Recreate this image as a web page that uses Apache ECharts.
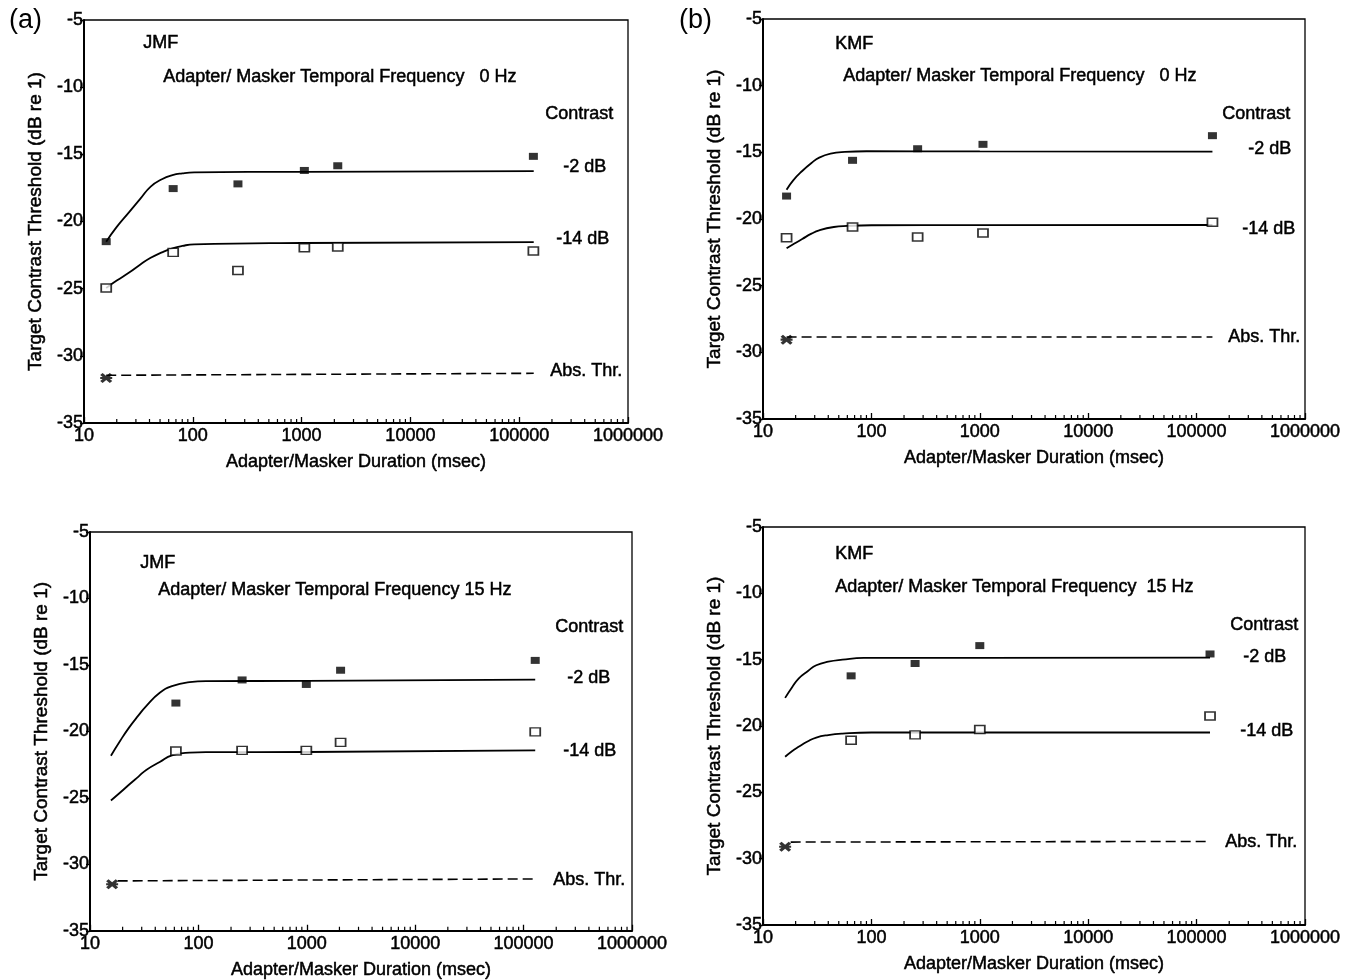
<!DOCTYPE html>
<html>
<head>
<meta charset="utf-8">
<script src="https://cdn.jsdelivr.net/npm/echarts@6/dist/echarts.min.js"></script>
<style>
  html, body { margin: 0; padding: 0; background: #fff; }
  #chart { width: 1354px; height: 980px; }
</style>
</head>
<body>
<div id="chart"></div>
<script>
// Adapter/masker duration (msec) and target contrast thresholds (dB re 1)

// (a) JMF, 0 Hz
const durA = [16, 66, 260, 1060, 2150, 135000];
const hiA = [-21.5, -17.55, -17.2, -16.2, -15.85, -15.15];
const loA = [-24.95, -22.3, -23.65, -21.95, -21.9, -22.2];
const absPtA = [16, -31.65];
const absLineA = [[16, -31.45], [136000, -31.3]];
const fitHiA = [[16, -21.5], [20, -20.4], [26, -19.3], [33, -18.3], [41, -17.4], [52, -16.85], [65, -16.55], [80, -16.42], [103, -16.35], [1000, -16.3], [136000, -16.25]];
const fitLoA = [[16, -24.95], [20, -24.4], [26, -23.8], [33, -23.2], [41, -22.7], [52, -22.3], [65, -22.0], [80, -21.82], [103, -21.7], [1000, -21.6], [136000, -21.53]];

// (b) KMF, 0 Hz
const durB = [16.5, 67, 267, 1070, 140000];
const hiB = [-18.28, -15.6, -14.73, -14.4, -13.75];
const loB = [-21.4, -20.6, -21.35, -21.05, -20.25];
const absPtB = [16.5, -29.05];
const absLineB = [[16.5, -28.85], [140000, -28.85]];
const fitHiB = [[16.5, -17.8], [19, -17.1], [23, -16.4], [28, -15.8], [33, -15.4], [42, -15.1], [57, -14.97], [90, -14.92], [1000, -14.93], [140000, -14.95]];
const fitLoB = [[16.5, -22.2], [19, -21.9], [23, -21.5], [28, -21.1], [33, -20.85], [45, -20.6], [60, -20.52], [100, -20.47], [1000, -20.46], [140000, -20.45]];

// (c) JMF, 15 Hz
const durC = [62, 253, 990, 2050, 128000];
const hiC = [-17.87, -16.13, -16.47, -15.4, -14.66];
const loC = [-21.48, -21.43, -21.43, -20.83, -20.04];
const absPtC = [16, -31.5];
const absLineC = [[18, -31.25], [130000, -31.1]];
const fitHiC = [[15.6, -21.83], [19, -20.7], [23, -19.7], [28, -18.8], [33, -18.1], [44, -17.1], [57, -16.6], [83, -16.3], [120, -16.22], [1000, -16.2], [128000, -16.1]];
const fitLoC = [[15.6, -25.2], [19, -24.6], [23, -24.0], [28, -23.4], [33, -22.9], [44, -22.3], [57, -21.8], [83, -21.6], [120, -21.56], [1000, -21.55], [128000, -21.43]];

// (d) KMF, 15 Hz
const durD = [65, 253, 1000, 133000];
const hiD = [-16.22, -15.29, -13.94, -14.57];
const loD = [-21.07, -20.67, -20.27, -19.24];
const absPtD = [16, -29.1];
const absLineD = [[18, -28.75], [133000, -28.7]];
const fitHiD = [[16, -17.88], [18.5, -17.1], [21.3, -16.42], [26, -15.85], [31, -15.42], [40, -15.15], [54, -15.0], [85, -14.87], [1000, -14.86], [133000, -14.85]];
const fitLoD = [[16, -22.32], [18.5, -21.9], [21.3, -21.57], [26, -21.15], [31, -20.87], [40, -20.68], [54, -20.57], [100, -20.49], [1000, -20.49], [133000, -20.49]];

// Axis ticks
const yTicks = [-35, -30, -25, -20, -15, -10, -5];
const xDecades = [10, 100, 1000, 10000, 100000, 1000000];
const minorTicks = [];
[10, 100, 1000, 10000, 100000].forEach(function (d) {
  [2, 3, 4, 5, 6, 7, 8, 9].forEach(function (m) { minorTicks.push(d * m); });
});

// Text
const yTitle = 'Target Contrast Threshold (dB re 1)';
const xTitle = 'Adapter/Masker Duration (msec)';

const FONT = '"Liberation Sans", Arial, Helvetica, sans-serif';
const INK = '#000';
const HEAVY = { textBorderColor: INK, textBorderWidth: 0.5 };

const grids = [
  { left: 84, top: 20, width: 544, height: 403 },
  { left: 763, top: 19, width: 542, height: 400 },
  { left: 90, top: 532, width: 542, height: 403 },
  { left: 763, top: 527, width: 542, height: 398 }
];

const panelData = [
  { dur: durA, hi: hiA, lo: loA, absPt: absPtA, absLine: absLineA, fitHi: fitHiA, fitLo: fitLoA },
  { dur: durB, hi: hiB, lo: loB, absPt: absPtB, absLine: absLineB, fitHi: fitHiB, fitLo: fitLoB },
  { dur: durC, hi: hiC, lo: loC, absPt: absPtC, absLine: absLineC, fitHi: fitHiC, fitLo: fitLoC },
  { dur: durD, hi: hiD, lo: loD, absPt: absPtD, absLine: absLineD, fitHi: fitHiD, fitLo: fitLoD }
];

// bold cross with a horizontal bar (absolute threshold marker)
const starPath = 'path://M0,2 L2,0 L5,3 L8,0 L10,2 L7,5 L10,8 L8,10 L5,7 L2,10 L0,8 L3,5 Z M0,3.9 L10,3.9 L10,6.1 L0,6.1 Z';

const yMin = yTicks[0];
const yMax = yTicks[yTicks.length - 1];

const option = {
  backgroundColor: '#fff',
  animation: false,
  textStyle: { fontFamily: FONT, color: INK },
  grid: grids.map(function (g) {
    return Object.assign({ show: true, borderColor: INK, borderWidth: 1.3, backgroundColor: 'transparent', containLabel: false }, g);
  }),
  xAxis: grids.map(function (g, i) {
    return {
      type: 'log', logBase: 10, gridIndex: i,
      min: xDecades[0], max: xDecades[xDecades.length - 1],
      name: xTitle, nameLocation: 'middle', nameGap: 30,
      nameTextStyle: Object.assign({ fontFamily: FONT, fontSize: 18, color: INK }, HEAVY),
      axisLine: { show: true, onZero: false, lineStyle: { color: INK, width: 2 } },
      axisTick: { show: true, inside: true, length: 6, lineStyle: { color: INK, width: 1.3 } },
      minorTick: { show: false },
      splitLine: { show: false },
      axisLabel: Object.assign({
        fontFamily: FONT, fontSize: 18, color: INK, margin: 4,
        formatter: function (v) { return String(Math.round(v)); }
      }, HEAVY)
    };
  }),
  yAxis: grids.map(function (g, i) {
    return {
      type: 'value', gridIndex: i,
      min: yMin, max: yMax, interval: 5,
      name: yTitle, nameLocation: 'middle', nameGap: 39,
      nameTextStyle: Object.assign({ fontFamily: FONT, fontSize: 19, color: INK }, HEAVY),
      axisLine: { show: true, onZero: false, lineStyle: { color: INK, width: 2 } },
      axisTick: { show: true, inside: false, length: 4, lineStyle: { color: INK, width: 1.3 } },
      splitLine: { show: false },
      axisLabel: Object.assign({ fontFamily: FONT, fontSize: 18, color: INK, margin: 1 }, HEAVY)
    };
  }),
  series: []
};

panelData.forEach(function (p, i) {
  const hiPts = p.dur.map(function (d, k) { return [d, p.hi[k]]; });
  const loPts = p.dur.map(function (d, k) { return [d, p.lo[k]]; });
  option.series.push(
    {
      type: 'line', xAxisIndex: i, yAxisIndex: i, data: p.fitHi, smooth: 0.5,
      showSymbol: false, symbol: 'none', lineStyle: { color: INK, width: 1.8 }, silent: true, z: 2
    },
    {
      type: 'line', xAxisIndex: i, yAxisIndex: i, data: p.fitLo, smooth: 0.5,
      showSymbol: false, symbol: 'none', lineStyle: { color: INK, width: 1.8 }, silent: true, z: 2
    },
    {
      type: 'line', xAxisIndex: i, yAxisIndex: i, data: p.absLine,
      showSymbol: false, symbol: 'none', lineStyle: { color: INK, width: 1.6, type: [10, 5] }, silent: true, z: 2
    },
    {
      type: 'scatter', xAxisIndex: i, yAxisIndex: i, data: hiPts,
      symbol: 'rect', symbolSize: [9, 7], itemStyle: { color: INK }, z: 4
    },
    {
      type: 'scatter', xAxisIndex: i, yAxisIndex: i, data: loPts,
      symbol: 'rect', symbolSize: [10, 8], itemStyle: { color: '#fff', borderColor: INK, borderWidth: 1.6 }, z: 4
    },
    {
      type: 'scatter', xAxisIndex: i, yAxisIndex: i, data: [p.absPt],
      symbol: starPath, symbolSize: [12, 10], itemStyle: { color: INK }, z: 4
    },
    {
      // log-spaced minor ticks along the bottom axis
      type: 'custom', xAxisIndex: i, yAxisIndex: i, silent: true, clip: false, z: 5,
      data: minorTicks.map(function (v) { return [v]; }),
      encode: { x: 0 },
      renderItem: function (params, api) {
        const pt = api.coord([api.value(0), yMin]);
        return {
          type: 'line',
          shape: { x1: pt[0], y1: pt[1], x2: pt[0], y2: pt[1] - 4 },
          style: { stroke: INK, lineWidth: 1.2 }
        };
      }
    }
  );
});

function txt(x, y, s, size, plain) {
  const fs = size || 18;
  const style = { text: s, fontFamily: FONT, fontSize: fs, fill: INK };
  if (!plain) { style.stroke = INK; style.lineWidth = 0.5; }
  return { type: 'text', left: x, top: y - fs / 2 - 1, silent: true, style: style };
}

option.graphic = [
  txt(9, 22, '(a)', 27, true),
  txt(143, 44, 'JMF'),
  txt(163, 78, 'Adapter/ Masker Temporal Frequency   0 Hz'),
  txt(545, 115, 'Contrast'),
  txt(563, 168, '-2 dB'),
  txt(556, 240, '-14 dB'),
  txt(550, 372, 'Abs. Thr.'),

  txt(679, 22, '(b)', 27, true),
  txt(835, 45, 'KMF'),
  txt(843, 77, 'Adapter/ Masker Temporal Frequency   0 Hz'),
  txt(1222, 115, 'Contrast'),
  txt(1248, 150, '-2 dB'),
  txt(1242, 230, '-14 dB'),
  txt(1228, 338, 'Abs. Thr.'),

  txt(140, 564, 'JMF'),
  txt(158, 591, 'Adapter/ Masker Temporal Frequency 15 Hz'),
  txt(555, 628, 'Contrast'),
  txt(567, 679, '-2 dB'),
  txt(563, 752, '-14 dB'),
  txt(553, 881, 'Abs. Thr.'),

  txt(835, 555, 'KMF'),
  txt(835, 588, 'Adapter/ Masker Temporal Frequency  15 Hz'),
  txt(1230, 626, 'Contrast'),
  txt(1243, 658, '-2 dB'),
  txt(1240, 732, '-14 dB'),
  txt(1225, 843, 'Abs. Thr.')
];

const chart = echarts.init(document.getElementById('chart'), null, { renderer: 'canvas' });
chart.setOption(option);
</script>
</body>
</html>
